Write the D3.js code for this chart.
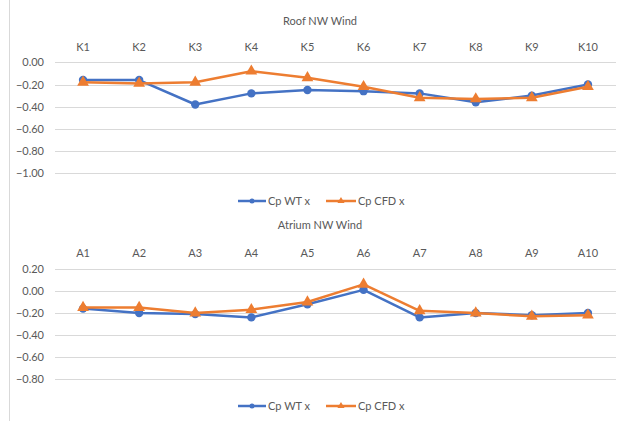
<!DOCTYPE html>
<html><head><meta charset="utf-8">
<script src="https://cdn.jsdelivr.net/npm/d3@7"></script>
<style>body{margin:0;background:#fff}svg{display:block}text{font-family:Lato,"Open Sans",sans-serif;fill:#595959}</style>
</head><body><svg id="c" width="626" height="421"></svg>
<script>
const roofCategories = ["K1","K2","K3","K4","K5","K6","K7","K8","K9","K10"];
const roofWT  = [-0.16,-0.16,-0.38,-0.28,-0.25,-0.26,-0.28,-0.36,-0.30,-0.20];
const roofCFD = [-0.18,-0.19,-0.18,-0.08,-0.14,-0.22,-0.32,-0.33,-0.32,-0.22];
const roofTicks = [0,-0.2,-0.4,-0.6,-0.8,-1.0];

const atriumCategories = ["A1","A2","A3","A4","A5","A6","A7","A8","A9","A10"];
const atriumWT  = [-0.16,-0.20,-0.21,-0.24,-0.12,0.01,-0.24,-0.20,-0.22,-0.20];
const atriumCFD = [-0.15,-0.15,-0.20,-0.17,-0.10,0.06,-0.18,-0.20,-0.23,-0.22];
const atriumTicks = [0.2,0,-0.2,-0.4,-0.6,-0.8];

const seriesNames = ["Cp WT x","Cp CFD x"];
const colors = ["#4472C4","#ED7D31"];

const svg = d3.select("#c");
svg.append("line").attr("x1",9.5).attr("x2",9.5).attr("y1",0).attr("y2",421).attr("stroke","#d9d9d9");

function panel(oy, title, cats, wt, cfd, ticks, yTop, yBot){
  const g = svg.append("g").attr("transform",`translate(0,${oy})`);
  const x = d3.scaleBand().domain(cats).range([55,616]);
  const y = d3.scaleLinear().domain([yBot,yTop]).range([yBot===-1?173.3:379-oy, yTop===0?62.3:269-oy]);
  g.append("text").attr("x",320).attr("y",oy===0?25:18.5).attr("text-anchor","middle").attr("font-size",11).text(title);
  const catY = oy===0?51:47;
  g.selectAll(".cat").data(cats).join("text").attr("x",d=>x(d)+x.bandwidth()/2).attr("y",catY)
    .attr("text-anchor","middle").attr("font-size",11).text(d=>d);
  const yAxis = d3.axisLeft(y).tickValues(ticks).tickFormat(d3.format(".2f")).tickSize(0);
  const ya = g.append("g").attr("transform","translate(55,0)").call(yAxis);
  ya.select(".domain").remove();
  ya.selectAll("text").attr("x",-11).attr("font-size",11).attr("fill","#595959").style("font-family","Lato,'Open Sans',sans-serif");
  g.selectAll(".grid").data(ticks).join("line").attr("x1",55).attr("x2",616)
    .attr("y1",d=>Math.round(y(d))+0.5).attr("y2",d=>Math.round(y(d))+0.5).attr("stroke","#d9d9d9").attr("stroke-width",1);
  const cx = i => x(cats[i]) + x.bandwidth()/2;
  const line = d3.line().x((d,i)=>cx(i)).y(d=>y(d));
  [wt,cfd].forEach((s,k)=>{
    g.append("path").datum(s).attr("d",line).attr("fill","none").attr("stroke",colors[k]).attr("stroke-width",2.5).attr("stroke-linejoin","round");
    if(k===0){
      g.selectAll(".m0").data(s).join("circle").attr("cx",(d,i)=>cx(i)).attr("cy",d=>y(d)).attr("r",4.2).attr("fill",colors[0]);
    } else {
      g.selectAll(".m1").data(s).join("path").attr("transform",(d,i)=>`translate(${cx(i)},${y(d)})`)
        .attr("d",d3.symbol(d3.symbolTriangle,60)).attr("fill",colors[1]);
    }
  });
  // legend
  const ly = oy===0?201:196;
  const leg = [[238,266,268],[326,356,358]];
  leg.forEach((L,k)=>{
    g.append("line").attr("x1",L[0]).attr("x2",L[1]).attr("y1",ly).attr("y2",ly).attr("stroke",colors[k]).attr("stroke-width",2.5);
    if(k===0) g.append("circle").attr("cx",(L[0]+L[1])/2).attr("cy",ly).attr("r",2.5).attr("fill",colors[0]);
    else g.append("path").attr("transform",`translate(${(L[0]+L[1])/2},${ly})`).attr("d",d3.symbol(d3.symbolTriangle,22)).attr("fill",colors[1]);
    g.append("text").attr("x",L[2]).attr("y",ly+4).attr("font-size",11).text(seriesNames[k]);
  });
}
panel(0,"Roof NW Wind",roofCategories,roofWT,roofCFD,roofTicks,0,-1);
panel(210,"Atrium NW Wind",atriumCategories,atriumWT,atriumCFD,atriumTicks,0.2,-0.8);
</script></body></html>
